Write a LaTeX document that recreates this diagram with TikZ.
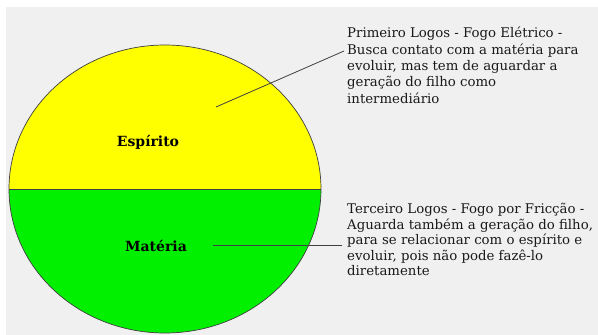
\documentclass[tikz,border=0pt]{standalone}
\usepackage{fontspec}
\setmainfont{DejaVu Serif}
\definecolor{bggray}{HTML}{F0F0F0}
\definecolor{topyellow}{HTML}{FFFF00}
\definecolor{botgreen}{HTML}{00F000}
\definecolor{edgegray}{HTML}{404040}
\begin{document}
\begin{tikzpicture}[x=1pt,y=-1pt,
  note/.style={anchor=north west,align=left,inner sep=0pt,text=black!90},
  partlabel/.style={inner sep=0pt,font=\bfseries\fontsize{14}{16}\selectfont},
  leader/.style={draw=black!75,line width=0.8pt}]
\useasboundingbox (0,0) rectangle (598,335);
\fill[white] (0,0) rectangle (598,335);
\fill[bggray] (6,7) rectangle (598,335);
\begin{scope}
  \clip (165,189) ellipse [x radius=156, y radius=144];
  \fill[topyellow] (0,0) rectangle (598,189);
  \fill[botgreen] (0,189) rectangle (598,340);
\end{scope}
\draw[edgegray,line width=0.7pt] (165,189) ellipse [x radius=156, y radius=144];
\draw[edgegray,line width=0.7pt] (9,189) -- (321,189);
\node[partlabel] (esp) at (148,142) {Espírito};
\node[partlabel] (mat) at (156,246) {Matéria};
\node[note,font=\fontsize{13.3}{16.3}\selectfont] (n1) at (347,27) {Primeiro Logos - Fogo Elétrico -\\Busca contato com a matéria para\\evoluir, mas tem de aguardar a\\geração do filho como\\intermediário};
\node[note,font=\fontsize{13.3}{15.6}\selectfont] (n2) at (347,203) {Terceiro Logos - Fogo por Fricção -\\Aguarda também a geração do filho,\\para se relacionar com o espírito e\\evoluir, pois não pode fazê-lo\\diretamente};
\coordinate (p1) at (216,107);
\coordinate (q1) at (344,51);
\coordinate (p2) at (213,245);
\coordinate (q2) at (342,245);
\draw[leader] (p1) -- (q1);
\draw[leader] (p2) -- (q2);
\end{tikzpicture}
\end{document}
